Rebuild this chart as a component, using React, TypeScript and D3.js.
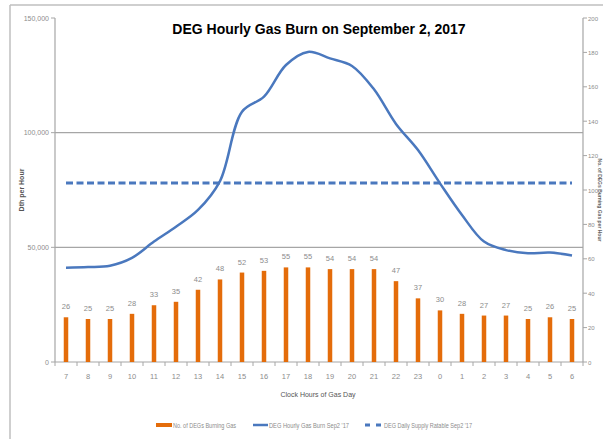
import React from "react";
import * as d3 from "d3";

const hours = ["7","8","9","10","11","12","13","14","15","16","17","18","19","20","21","22","23","0","1","2","3","4","5","6"];
const degCount = [26,25,25,28,33,35,42,48,52,53,55,55,54,54,54,47,37,30,28,27,27,25,26,25];
const hourlyBurn = [41100,41400,42000,45400,52500,59000,66300,78900,109100,115700,129500,135200,132400,129100,118900,103800,92400,77900,64100,52500,48800,47400,47700,46400];
const dailyRatable = hours.map(() => 78000);
const leftTicks = [0, 50000, 100000, 150000];
const rightTicks = [0,20,40,60,80,100,120,140,160,180,200];

const W = 603, H = 439;
const L = 55, R = 583, T = 18, B = 362;
const ORANGE = "#E46C0A";
const BLUE = "#4A78BE";
const GRID = "#A6A6A6";
const TXT = "#8C8C8C";
const NARROW = "'Liberation Sans Narrow', 'Arial Narrow', 'Liberation Sans', Arial, sans-serif";

export default function App() {
  const x = d3.scaleBand<string>().domain(hours).range([L, R]).padding(0);
  const yL = d3.scaleLinear().domain([0, 150000]).range([B, T]);
  const yR = d3.scaleLinear().domain([0, 200]).range([B, T]);
  const cx = (h: string) => (x(h) as number) + x.bandwidth() / 2;
  const fmt = d3.format(",");

  const burnLine = d3.line<number>()
    .x((_, i) => cx(hours[i]))
    .y((d) => yL(d))
    .curve(d3.curveCatmullRom.alpha(0.5));
  const flatLine = d3.line<number>()
    .x((_, i) => cx(hours[i]))
    .y((d) => yL(d));

  const barW = 4.5;

  return (
    <svg width={W} height={H} style={{ position: "absolute", left: 0, top: 0, background: "#fff" }}>
      {/* outer frame */}
      <line x1={10} x2={W} y1={5} y2={5} stroke="#BFBFBF" strokeWidth={1.5} />
      <line x1={10} x2={10} y1={5} y2={H} stroke="#BFBFBF" strokeWidth={1.5} />

      {/* gridlines */}
      {leftTicks.filter((t) => t > 0 && t < 150000).map((t) => (
        <line key={"g" + t} x1={L} x2={R} y1={yL(t)} y2={yL(t)} stroke={GRID} strokeWidth={1.2} />
      ))}

      {/* axes */}
      <line x1={L} x2={L} y1={T} y2={B} stroke={GRID} strokeWidth={1.2} />
      <line x1={R} x2={R} y1={T} y2={B} stroke={GRID} strokeWidth={1.2} />
      <line x1={L} x2={R} y1={B} y2={B} stroke={GRID} strokeWidth={1.2} />

      {/* left ticks */}
      {leftTicks.map((t) => (
        <g key={"l" + t}>
          <line x1={L - 4} x2={L} y1={yL(t)} y2={yL(t)} stroke={GRID} />
          <text x={L - 6} y={yL(t) + 2.5} textAnchor="end" fontSize={7} fill={TXT} fontFamily={NARROW}>{fmt(t)}</text>
        </g>
      ))}
      {/* right ticks */}
      {rightTicks.map((t) => (
        <g key={"r" + t}>
          <line x1={R} x2={R + 4} y1={yR(t)} y2={yR(t)} stroke={GRID} />
          <text x={R + 5} y={yR(t) + 2.5} textAnchor="start" fontSize={6} fill={TXT} fontFamily={NARROW}>{t}</text>
        </g>
      ))}
      {/* x ticks at band boundaries */}
      {hours.map((h) => (
        <line key={"xt" + h} x1={x(h) as number} x2={x(h) as number} y1={B} y2={B + 4} stroke={GRID} />
      ))}
      <line x1={R} x2={R} y1={B} y2={B + 4} stroke={GRID} />
      {hours.map((h) => (
        <text key={"xl" + h} x={cx(h)} y={B + 17} textAnchor="middle" fontSize={7.5} fill={TXT} fontFamily={NARROW}>{h}</text>
      ))}

      {/* bars */}
      {degCount.map((v, i) => (
        <g key={"b" + i}>
          <rect x={cx(hours[i]) - barW / 2} y={yR(v)} width={barW} height={B - yR(v)} fill={ORANGE} />
          <text x={cx(hours[i])} y={yR(v) - 8} textAnchor="middle" fontSize={7.5} fill={TXT} fontFamily={NARROW}>{v}</text>
        </g>
      ))}

      {/* lines */}
      <path d={flatLine(dailyRatable) as string} fill="none" stroke={BLUE} strokeWidth={3} strokeDasharray="7,3.5" />
      <path d={burnLine(hourlyBurn) as string} fill="none" stroke={BLUE} strokeWidth={2.5} />

      {/* title */}
      <text x={319} y={34} textAnchor="middle" fontSize={14} fontWeight="bold" fill="#000" fontFamily="'Liberation Sans', Arial, sans-serif">DEG Hourly Gas Burn on September 2, 2017</text>

      {/* axis titles */}
      <text transform={`translate(24,${(T + B) / 2}) rotate(-90)`} textAnchor="middle" fontSize={7} fontWeight="bold" fill="#555" fontFamily={NARROW}>Dth per Hour</text>
      <text transform={`translate(598,${(T + B) / 2 + 10}) rotate(90)`} textAnchor="middle" fontSize={5} fontWeight="bold" fill="#666" fontFamily={NARROW}>No. of DEGs Burning Gas per Hour</text>
      <text x={318} y={397} textAnchor="middle" fontSize={7} fill="#555" fontFamily={NARROW}>Clock Hours of Gas Day</text>

      {/* legend */}
      <rect x={156} y={423} width={16} height={4} fill={ORANGE} />
      <text x={173} y={427.5} fontSize={7} fill={TXT} fontFamily={NARROW} textLength={63} lengthAdjust="spacingAndGlyphs">No. of DEGs Burning Gas</text>
      <line x1={253} x2={268} y1={425} y2={425} stroke={BLUE} strokeWidth={2.5} />
      <text x={269} y={427.5} fontSize={7} fill={TXT} fontFamily={NARROW} textLength={80} lengthAdjust="spacingAndGlyphs">DEG Hourly Gas Burn Sep2 '17</text>
      <line x1={365} x2={383} y1={425} y2={425} stroke={BLUE} strokeWidth={3} strokeDasharray="5,6" />
      <text x={384} y={427.5} fontSize={7} fill={TXT} fontFamily={NARROW} textLength={88} lengthAdjust="spacingAndGlyphs">DEG Daily Supply Ratable Sep2 '17</text>
    </svg>
  );
}
